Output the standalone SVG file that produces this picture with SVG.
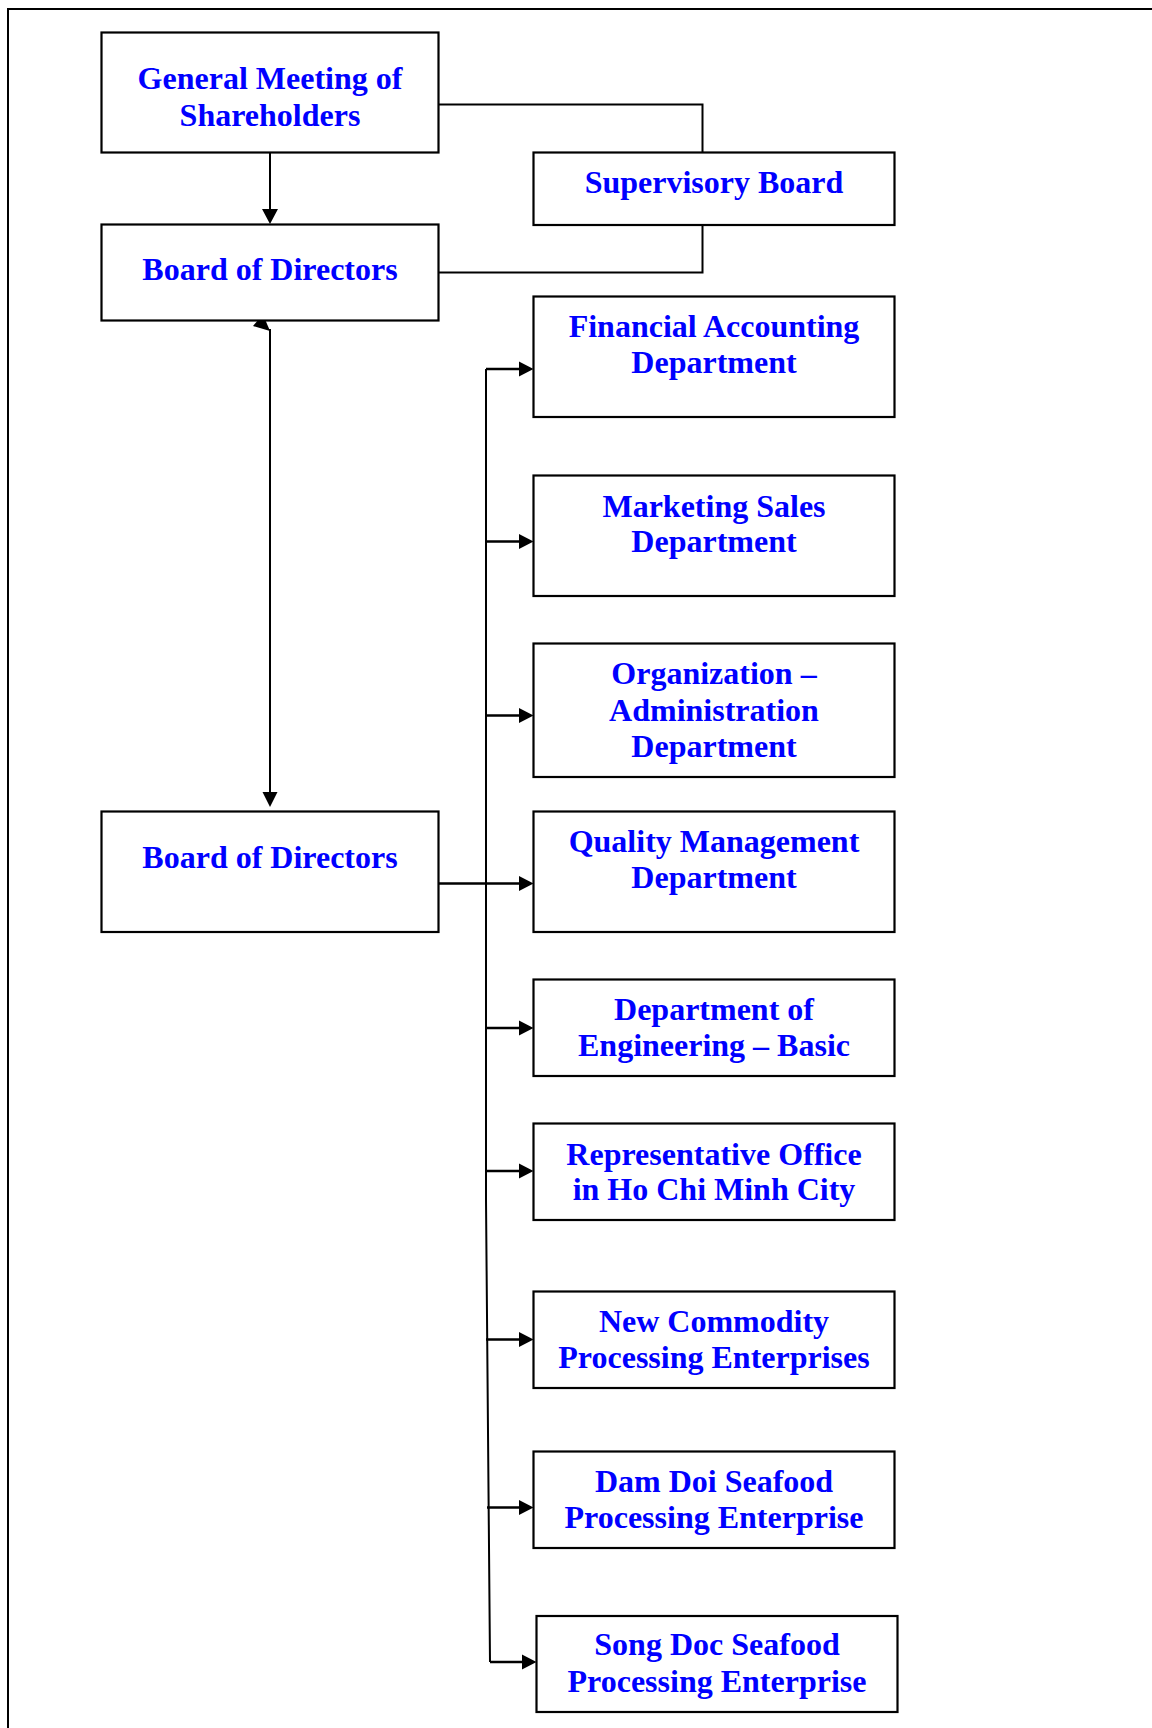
<svg xmlns="http://www.w3.org/2000/svg" width="1152" height="1728" viewBox="0 0 1152 1728">
<style>
.box{fill:#fff;stroke:#000;stroke-width:2.2}
.t{font-family:"Liberation Serif","Times New Roman",serif;font-weight:bold;font-size:32px;fill:#0000FF;text-anchor:middle}
.ln{fill:none;stroke:#000;stroke-width:2}
.ar{fill:none;stroke:#000;stroke-width:2.6}
.hd{fill:#000;stroke:none}
</style>
<rect width="1152" height="1728" fill="#fff"/>
<g id="frame"><polyline class="ln" points="8,1728 8,9 1152,9"/></g>
<g id="connectors">
<polyline class="ln" points="438.5,104.5 702.5,104.5 702.5,152.5"/>
<polyline class="ln" points="702.5,225 702.5,272.5 438.5,272.5"/>
<line class="ln" x1="270" y1="152.5" x2="270" y2="210"/>
<polygon class="hd" points="262,209 278,209 270,224"/>
<line class="ln" x1="270" y1="329" x2="270" y2="793"/>
<polygon class="hd" points="263,314.5 253,326 270,331"/>
<polygon class="hd" points="262.5,792 277.5,792 270,807"/>
<polyline class="ln" points="486,369 486,1200 490,1662"/>
<line class="ar" x1="486" y1="369" x2="520" y2="369"/>
<polygon class="hd" points="519,361.5 533.5,369 519,376.5"/>
<line class="ar" x1="486" y1="541.5" x2="520" y2="541.5"/>
<polygon class="hd" points="519,534 533.5,541.5 519,549"/>
<line class="ar" x1="486" y1="715.5" x2="520" y2="715.5"/>
<polygon class="hd" points="519,708 533.5,715.5 519,723"/>
<line class="ar" x1="438.5" y1="883.5" x2="520" y2="883.5"/>
<polygon class="hd" points="519,876 533.5,883.5 519,891"/>
<line class="ar" x1="486" y1="1028" x2="520" y2="1028"/>
<polygon class="hd" points="519,1020.5 533.5,1028 519,1035.5"/>
<line class="ar" x1="486" y1="1171" x2="520" y2="1171"/>
<polygon class="hd" points="519,1163.5 533.5,1171 519,1178.5"/>
<line class="ar" x1="486" y1="1339.5" x2="520" y2="1339.5"/>
<polygon class="hd" points="519,1332 533.5,1339.5 519,1347"/>
<line class="ar" x1="487" y1="1507.5" x2="520" y2="1507.5"/>
<polygon class="hd" points="519,1500 533.5,1507.5 519,1515"/>
<line class="ar" x1="490" y1="1662" x2="523" y2="1662"/>
<polygon class="hd" points="522,1654.5 536.5,1662 522,1669.5"/>
</g>
<g id="gm"><rect class="box" x="101.5" y="32.5" width="337" height="120"/><text class="t" x="270" y="89">General Meeting of</text><text class="t" x="270" y="126">Shareholders</text></g>
<g id="sb"><rect class="box" x="533.5" y="152.5" width="361" height="72.5"/><text class="t" x="714" y="193">Supervisory Board</text></g>
<g id="bod1"><rect class="box" x="101.5" y="224.5" width="337" height="96"/><text class="t" x="270" y="280">Board of Directors</text></g>
<g id="fa"><rect class="box" x="533.5" y="296.5" width="361" height="120.5"/><text class="t" x="714" y="337">Financial Accounting</text><text class="t" x="714" y="373">Department</text></g>
<g id="ms"><rect class="box" x="533.5" y="475.5" width="361" height="120.5"/><text class="t" x="714" y="517">Marketing Sales</text><text class="t" x="714" y="552">Department</text></g>
<g id="org"><rect class="box" x="533.5" y="643.5" width="361" height="133.5"/><text class="t" x="714" y="684">Organization –</text><text class="t" x="714" y="720.5">Administration</text><text class="t" x="714" y="757">Department</text></g>
<g id="bod2"><rect class="box" x="101.5" y="811.5" width="337" height="120.5"/><text class="t" x="270" y="868">Board of Directors</text></g>
<g id="qm"><rect class="box" x="533.5" y="811.5" width="361" height="120.5"/><text class="t" x="714" y="852">Quality Management</text><text class="t" x="714" y="888">Department</text></g>
<g id="de"><rect class="box" x="533.5" y="979.5" width="361" height="96.5"/><text class="t" x="714" y="1020">Department of</text><text class="t" x="714" y="1056">Engineering – Basic</text></g>
<g id="ro"><rect class="box" x="533.5" y="1123.5" width="361" height="96.5"/><text class="t" x="714" y="1165">Representative Office</text><text class="t" x="714" y="1200">in Ho Chi Minh City</text></g>
<g id="nc"><rect class="box" x="533.5" y="1291.5" width="361" height="96.5"/><text class="t" x="714" y="1332">New Commodity</text><text class="t" x="714" y="1368">Processing Enterprises</text></g>
<g id="dd"><rect class="box" x="533.5" y="1451.5" width="361" height="96.5"/><text class="t" x="714" y="1492">Dam Doi Seafood</text><text class="t" x="714" y="1528">Processing Enterprise</text></g>
<g id="sd"><rect class="box" x="536.5" y="1616" width="361" height="96"/><text class="t" x="717" y="1655">Song Doc Seafood</text><text class="t" x="717" y="1692">Processing Enterprise</text></g>
</svg>
